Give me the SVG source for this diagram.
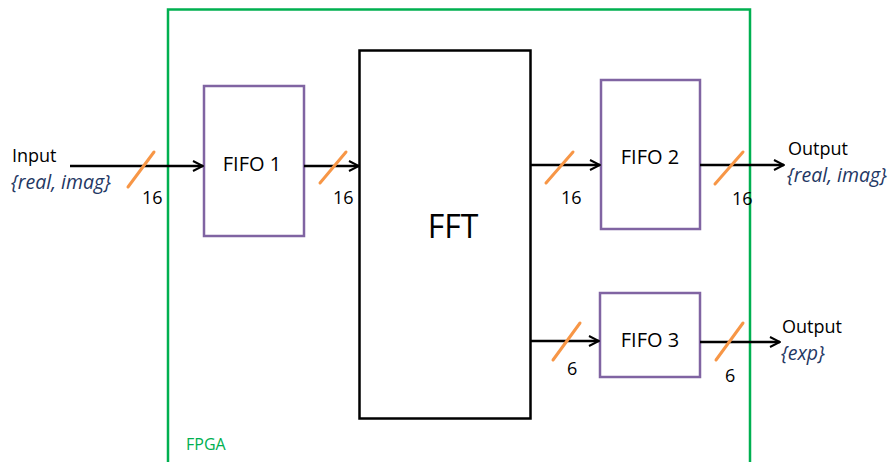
<svg xmlns="http://www.w3.org/2000/svg" width="896" height="462" viewBox="0 0 896 462">
<defs>
<marker id="arr" viewBox="0 0 12 12" refX="11" refY="6" markerWidth="12" markerHeight="12" markerUnits="userSpaceOnUse" orient="auto">
<path d="M1,1 L11,6 L1,11" fill="none" stroke="#000" stroke-width="2"/>
</marker>
</defs>
<style>
text{font-family:"Open Sans","Liberation Sans",sans-serif;}
.lbl{font-size:18px;fill:#000;}
.box{font-size:20px;fill:#000;}
.it{font-size:19.5px;font-style:italic;fill:#1f3864;}
.num{font-size:18px;fill:#000;}
.fifo{fill:#fff;stroke:#8064a2;stroke-width:2.5;}
.edge{stroke:#000;stroke-width:2.5;fill:none;marker-end:url(#arr);}
.slash{stroke:#f79646;stroke-width:3;stroke-linecap:round;}
</style>
<rect width="896" height="462" fill="#fff"/>
<g id="fpga">
<path d="M168,462 V9.5 H750 V462" fill="none" stroke="#00b050" stroke-width="2.5"/>
<text x="186" y="450" style="font-size:16px;fill:#00b050">FPGA</text>
</g>
<g id="fifo1"><rect class="fifo" x="204" y="86" width="100" height="150"/><text class="box" x="252" y="171" text-anchor="middle">FIFO 1</text></g>
<g id="fft"><rect x="359.5" y="50.5" width="171" height="368" fill="#fff" stroke="#000" stroke-width="2.5"/><text x="453" y="238" text-anchor="middle" style="font-size:32px">FFT</text></g>
<g id="fifo2"><rect class="fifo" x="601" y="80" width="99" height="149"/><text class="box" x="650" y="164" text-anchor="middle">FIFO 2</text></g>
<g id="fifo3"><rect class="fifo" x="600" y="293" width="100" height="84"/><text class="box" x="650" y="347" text-anchor="middle">FIFO 3</text></g>
<g id="input"><text class="lbl" x="12" y="162">Input</text><text class="it" x="11" y="189">{real, imag}</text></g>
<g id="output1"><text class="lbl" x="788" y="155">Output</text><text class="it" x="787" y="182">{real, imag}</text></g>
<g id="output2"><text class="lbl" x="782" y="333">Output</text><text class="it" x="781" y="360">{exp}</text></g>
<g id="connectors">
<line class="edge" x1="70" y1="166" x2="203" y2="166"/>
<line class="edge" x1="304" y1="166" x2="359" y2="166"/>
<line class="edge" x1="531" y1="165" x2="600" y2="165"/>
<line class="edge" x1="700" y1="165" x2="784" y2="165"/>
<line class="edge" x1="531" y1="341" x2="599" y2="341"/>
<line class="edge" x1="700" y1="342" x2="780" y2="342"/>
<line class="slash" x1="128" y1="187" x2="154" y2="152"/>
<line class="slash" x1="320" y1="183" x2="346" y2="152"/>
<line class="slash" x1="546" y1="183" x2="573" y2="152"/>
<line class="slash" x1="715" y1="184" x2="743" y2="152"/>
<line class="slash" x1="553" y1="360" x2="580" y2="323"/>
<line class="slash" x1="716" y1="360" x2="743" y2="323"/>
<text class="num" x="142" y="204">16</text>
<text class="num" x="333" y="204">16</text>
<text class="num" x="561" y="204">16</text>
<text class="num" x="732" y="205">16</text>
<text class="num" x="567" y="375">6</text>
<text class="num" x="725" y="382">6</text>
</g>
</svg>
